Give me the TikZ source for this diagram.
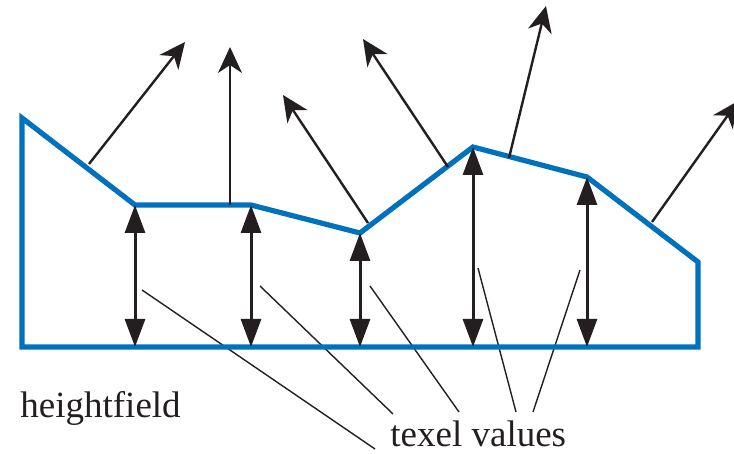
\documentclass[tikz,border=0pt]{standalone}
\usepackage{fontspec}
\setmainfont{Liberation Serif}
\usetikzlibrary{arrows.meta}
\definecolor{campo}{HTML}{0071BC}
\definecolor{tinta}{HTML}{231F20}

\begin{document}
\begin{tikzpicture}[x=0.5pt,y=-0.5pt,
    perfil/.style={draw=campo,line width=2.6pt},
    altura/.style={{Triangle[length=14pt,width=10pt]}-{Triangle[length=14pt,width=10pt]},
                   draw=tinta,line width=1.5pt},
    normal/.style={-{Stealth[length=13pt,width=12pt,inset=4pt]},draw=tinta,line width=1.2pt},
    guia/.style={draw=tinta,line width=0.7pt},
    rotulo/.style={font=\fontsize{18.5}{20}\selectfont,text=tinta,inner sep=0pt}]
  \clip (0,0) rectangle (734,454);
  % vertices of the heightfield
  \coordinate (t0) at (22,118);
  \coordinate (t1) at (135,205);
  \coordinate (t2) at (251,205);
  \coordinate (t3) at (360,233);
  \coordinate (t4) at (473,147);
  \coordinate (t5) at (587,177);
  \coordinate (t6) at (698,262);
  \coordinate (r0) at (698,347);
  \coordinate (l0) at (22,347);
  \foreach \i/\x in {1/135,2/251,3/360,4/473,5/587}
    \coordinate (b\i) at (\x,347);
  % labels
  \node[rotulo,anchor=base west] (hf) at (20,417) {heightfield};
  \node[rotulo,anchor=base west] (tv) at (390,446) {texel values};
  % leader lines
  \coordinate (g1) at (142,290);
  \coordinate (g2) at (260,286);
  \coordinate (g3) at (370,286);
  \coordinate (g4) at (478,268);
  \coordinate (g5) at (580,270);
  \coordinate (e1) at (375,449);
  \coordinate (e2) at (393,414);
  \coordinate (e3) at (459,412);
  \coordinate (e4) at (516,412);
  \coordinate (e5) at (533,412);
  \foreach \i in {1,...,5}
    \draw[guia] (g\i) -- (e\i);
  % surface
  \draw[perfil] (t0) -- (t1) -- (t2) -- (t3) -- (t4) -- (t5) -- (t6) -- (r0) -- (l0) -- cycle;
  % texel heights
  \foreach \i in {1,...,5}
    \draw[altura] (b\i) -- (t\i);
  % normals
  \coordinate (n1) at (89,164);   \coordinate (m1) at (185,42);
  \coordinate (n2) at (230,205);  \coordinate (m2) at (230,47);
  \coordinate (n3) at (368,223);  \coordinate (m3) at (283,95);
  \coordinate (n4) at (448,167);  \coordinate (m4) at (363,39);
  \coordinate (n5) at (509,158);  \coordinate (m5) at (546,6);
  \coordinate (n6) at (652,222);  \coordinate (m6) at (738,101);
  \foreach \i in {1,...,6}
    \draw[normal] (n\i) -- (m\i);
\end{tikzpicture}
\end{document}
